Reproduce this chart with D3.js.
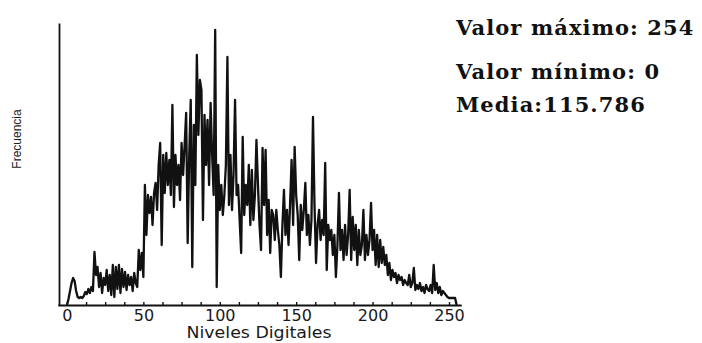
<!DOCTYPE html>
<html>
<head>
<meta charset="utf-8">
<script src="https://cdn.jsdelivr.net/npm/d3@7"></script>
<style>
  html, body { margin: 0; padding: 0; background: #fff; }
  svg { display: block; }
</style>
</head>
<body>
<div id="chart"></div>
<script>
// Frequency per digital level (0..255)
const counts = [
  0, 6, 14, 22, 27, 24, 14, 8, 7, 8,
  7, 9, 13, 11, 16, 12, 18, 14, 53, 30,
  38, 18, 32, 12, 27, 20, 35, 14, 30, 10,
  40, 8, 38, 16, 40, 12, 36, 18, 33, 15,
  30, 20, 28, 14, 32, 22, 18, 55, 35, 52,
  28, 120, 70, 110, 92, 108, 80, 112, 122, 95,
  140, 162, 60, 150, 112, 152, 120, 145, 110, 200,
  98, 150, 120, 140, 105, 162, 130, 160, 192, 62,
  150, 205, 38, 180, 120, 250, 170, 225, 215, 85,
  190, 140, 185, 120, 202, 150, 110, 275, 18, 140,
  95, 120, 90, 110, 140, 248, 100, 150, 95, 130,
  205, 110, 120, 85, 52, 168, 90, 120, 100, 140,
  80, 135, 85, 110, 165, 120, 80, 55, 157, 100,
  155, 70, 105, 52, 95, 90, 65, 95, 75, 60,
  28, 80, 115, 70, 95, 60, 100, 145, 80, 158,
  110, 90, 45, 100, 75, 95, 122, 70, 90, 60,
  85, 188, 100, 42, 80, 95, 65, 85, 70, 142,
  35, 80, 65, 75, 50, 70, 28, 60, 112, 55,
  75, 45, 80, 50, 70, 115, 45, 88, 55, 80,
  40, 75, 50, 60, 95, 45, 70, 50, 65, 102,
  55, 75, 40, 70, 38, 65, 42, 58, 40, 50,
  30, 42, 25, 35, 28, 32, 22, 30, 25, 28,
  20, 25, 22, 20, 30, 18, 22, 37, 15, 20,
  16, 22, 14, 18, 12, 20, 16, 14, 20, 12,
  40, 15, 22, 12, 18, 10, 14, 12, 10, 8,
  7, 7, 7, 7, 7, 0
];
const xTickLabels = [0, 50, 100, 150, 200, 250];
const xTickStep = 12.5;
const statLabels = ["Valor máximo: 254", "Valor mínimo: 0", "Media:115.786"];
const xTitle = "Niveles Digitales";
const yTitle = "Frecuencia";

const width = 702;
const height = 343;

const svg = d3.select("#chart")
  .append("svg")
  .attr("width", width)
  .attr("height", height)
  .style("background", "#fff");

const x = d3.scaleLinear().domain([-6, 258]).range([57.8, 461.2]);
const y = d3.scaleLinear().domain([0, 282]).range([305, 23]);

// x axis: small inward ticks, labels only every 50
const xTicks = d3.range(0, 250 + 0.1, xTickStep);
const xAxis = svg.append("g")
  .attr("transform", `translate(0,${y(0)})`)
  .call(d3.axisBottom(x)
    .tickValues(xTicks)
    .tickSizeInner(-3)
    .tickSizeOuter(0)
    .tickPadding(5)
    .tickFormat(d => xTickLabels.includes(d) ? d : ""));
xAxis.select(".domain").attr("stroke", "#111").attr("stroke-width", 1.8);
xAxis.selectAll(".tick line").attr("stroke", "#111").attr("stroke-width", 1.4);
xAxis.selectAll(".tick text")
  .attr("fill", "#1a1a1a")
  .style("font-family", "'DejaVu Sans', sans-serif")
  .style("font-size", "16px");

// y axis: plain line, no ticks
const yAxis = svg.append("g")
  .attr("transform", "translate(59,0)")
  .call(d3.axisLeft(y).tickValues([]).tickSizeOuter(0));
yAxis.select(".domain").attr("stroke", "#111").attr("stroke-width", 1.8);

// histogram trace
const line = d3.line()
  .x((d, i) => x(i))
  .y(d => y(d));

svg.append("path")
  .datum(counts)
  .attr("fill", "none")
  .attr("stroke", "#111")
  .attr("stroke-width", 2.3)
  .attr("stroke-linejoin", "round")
  .attr("d", line);

// axis titles
svg.append("text")
  .attr("x", 259)
  .attr("y", 338)
  .attr("text-anchor", "middle")
  .attr("textLength", 145)
  .attr("lengthAdjust", "spacingAndGlyphs")
  .style("font-family", "'DejaVu Sans', sans-serif")
  .style("font-size", "16px")
  .attr("fill", "#1a1a1a")
  .text(xTitle);

svg.append("text")
  .attr("transform", "translate(21,139) rotate(-90)")
  .attr("text-anchor", "middle")
  .style("font-family", "'Liberation Sans', Arial, sans-serif")
  .style("font-size", "12px")
  .attr("fill", "#1a1a1a")
  .text(yTitle);

// statistics block on the right
const statY = [35, 79, 112];
svg.selectAll(".stat")
  .data(statLabels)
  .enter()
  .append("text")
  .attr("class", "stat")
  .attr("x", 456)
  .attr("y", (d, i) => statY[i])
  .style("font-family", "'DejaVu Serif', serif")
  .style("font-weight", "bold")
  .style("font-size", "21px")
  .style("letter-spacing", "1.1px")
  .attr("fill", "#111")
  .text(d => d);
</script>
</body>
</html>
